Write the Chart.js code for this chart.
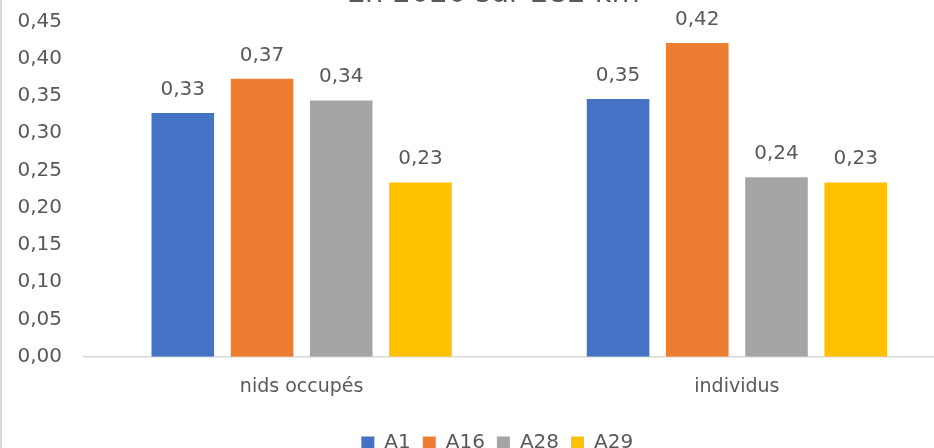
<!DOCTYPE html>
<html>
<head>
<meta charset="utf-8">
<script src="https://cdn.jsdelivr.net/npm/chart.js@4"></script>
<style>
  html, body { margin: 0; padding: 0; background: #ffffff; overflow: hidden; width: 934px; height: 448px; }
  #wrap { position: absolute; left: 0; top: -40px; width: 986px; height: 503px; }
</style>
</head>
<body>
<div id="wrap"><canvas id="c" width="986" height="503"></canvas></div>
<script>
const titleText = 'En 2020 sur 282 km';
const categories = ['nids occupés', 'individus'];
const seriesNames = ['A1', 'A16', 'A28', 'A29'];
const seriesColors = ['#4472c4', '#ed7d31', '#a5a5a5', '#ffc000'];
const valuesA1 = [0.327, 0.346];
const valuesA16 = [0.373, 0.421];
const valuesA28 = [0.344, 0.241];
const valuesA29 = [0.234, 0.234];
const yMin = 0, yMax = 0.45, yStep = 0.05;

const seriesValues = [valuesA1, valuesA16, valuesA28, valuesA29];
const textColor = '#595959';
const fmt = v => Number(v).toFixed(2).replace('.', ',');

const valueLabels = {
  id: 'valueLabels',
  afterDatasetsDraw(chart) {
    const ctx = chart.ctx;
    ctx.save();
    ctx.font = '20px "DejaVu Sans"';
    ctx.fillStyle = textColor;
    ctx.textAlign = 'center';
    ctx.textBaseline = 'alphabetic';
    chart.data.datasets.forEach((ds, i) => {
      const meta = chart.getDatasetMeta(i);
      meta.data.forEach((bar, j) => {
        ctx.fillText(fmt(ds.data[j]), bar.x, bar.y - 18);
      });
    });
    ctx.restore();
  }
};

const chartBorder = {
  id: 'chartBorder',
  beforeDraw(chart) {
    const ctx = chart.ctx;
    ctx.save();
    ctx.fillStyle = '#ffffff';
    ctx.fillRect(0, 0, chart.width, chart.height);
    ctx.strokeStyle = '#d9d9d9';
    ctx.lineWidth = 2;
    ctx.strokeRect(1, 1, chart.width - 2, chart.height + 20);
    ctx.restore();
  }
};

// The original chart is wider than the visible crop: centre title and legend on the full chart width
const centreBlocks = {
  id: 'centreBlocks',
  afterLayout(chart) {
    if (chart.legend) { chart.legend.left += 20; chart.legend.right += 20; }
    if (chart.titleBlock) { chart.titleBlock.left += 16; chart.titleBlock.right += 16; }
  }
};

new Chart(document.getElementById('c'), {
  type: 'bar',
  data: {
    labels: categories,
    datasets: seriesNames.map((name, i) => ({
      label: name,
      data: seriesValues[i],
      backgroundColor: seriesColors[i],
      borderWidth: 0,
      barPercentage: 0.79,
      categoryPercentage: 0.728
    }))
  },
  options: {
    responsive: false,
    animation: false,
    layout: { padding: { left: 0, right: 31.5, top: 0, bottom: 0 } },
    plugins: {
      tooltip: { enabled: false },
      title: {
        display: true,
        text: titleText,
        color: textColor,
        font: { family: '"DejaVu Sans"', size: 29, weight: 'normal', lineHeight: 1.0 },
        padding: { top: 20, bottom: 12.5 }
      },
      legend: {
        position: 'bottom',
        labels: {
          color: textColor,
          font: { family: '"DejaVu Sans"', size: 20 },
          boxWidth: 13,
          boxHeight: 13,
          padding: 12
        }
      }
    },
    scales: {
      x: {
        grid: { display: false, drawTicks: false },
        border: { display: true, color: '#d9d9d9', width: 1.5 },
        afterFit(scale) { scale.height += 3.5; },
        ticks: {
          color: textColor,
          font: { family: '"DejaVu Sans"', size: 19 },
          padding: 19
        }
      },
      y: {
        min: yMin,
        max: yMax,
        grid: { display: false, drawTicks: false },
        border: { display: false },
        afterFit(scale) { scale.width = 84; },
        ticks: {
          stepSize: yStep,
          color: textColor,
          font: { family: '"DejaVu Sans"', size: 20 },
          padding: 22,
          callback: v => fmt(v)
        }
      }
    }
  },
  plugins: [chartBorder, centreBlocks, valueLabels]
});
</script>
</body>
</html>
